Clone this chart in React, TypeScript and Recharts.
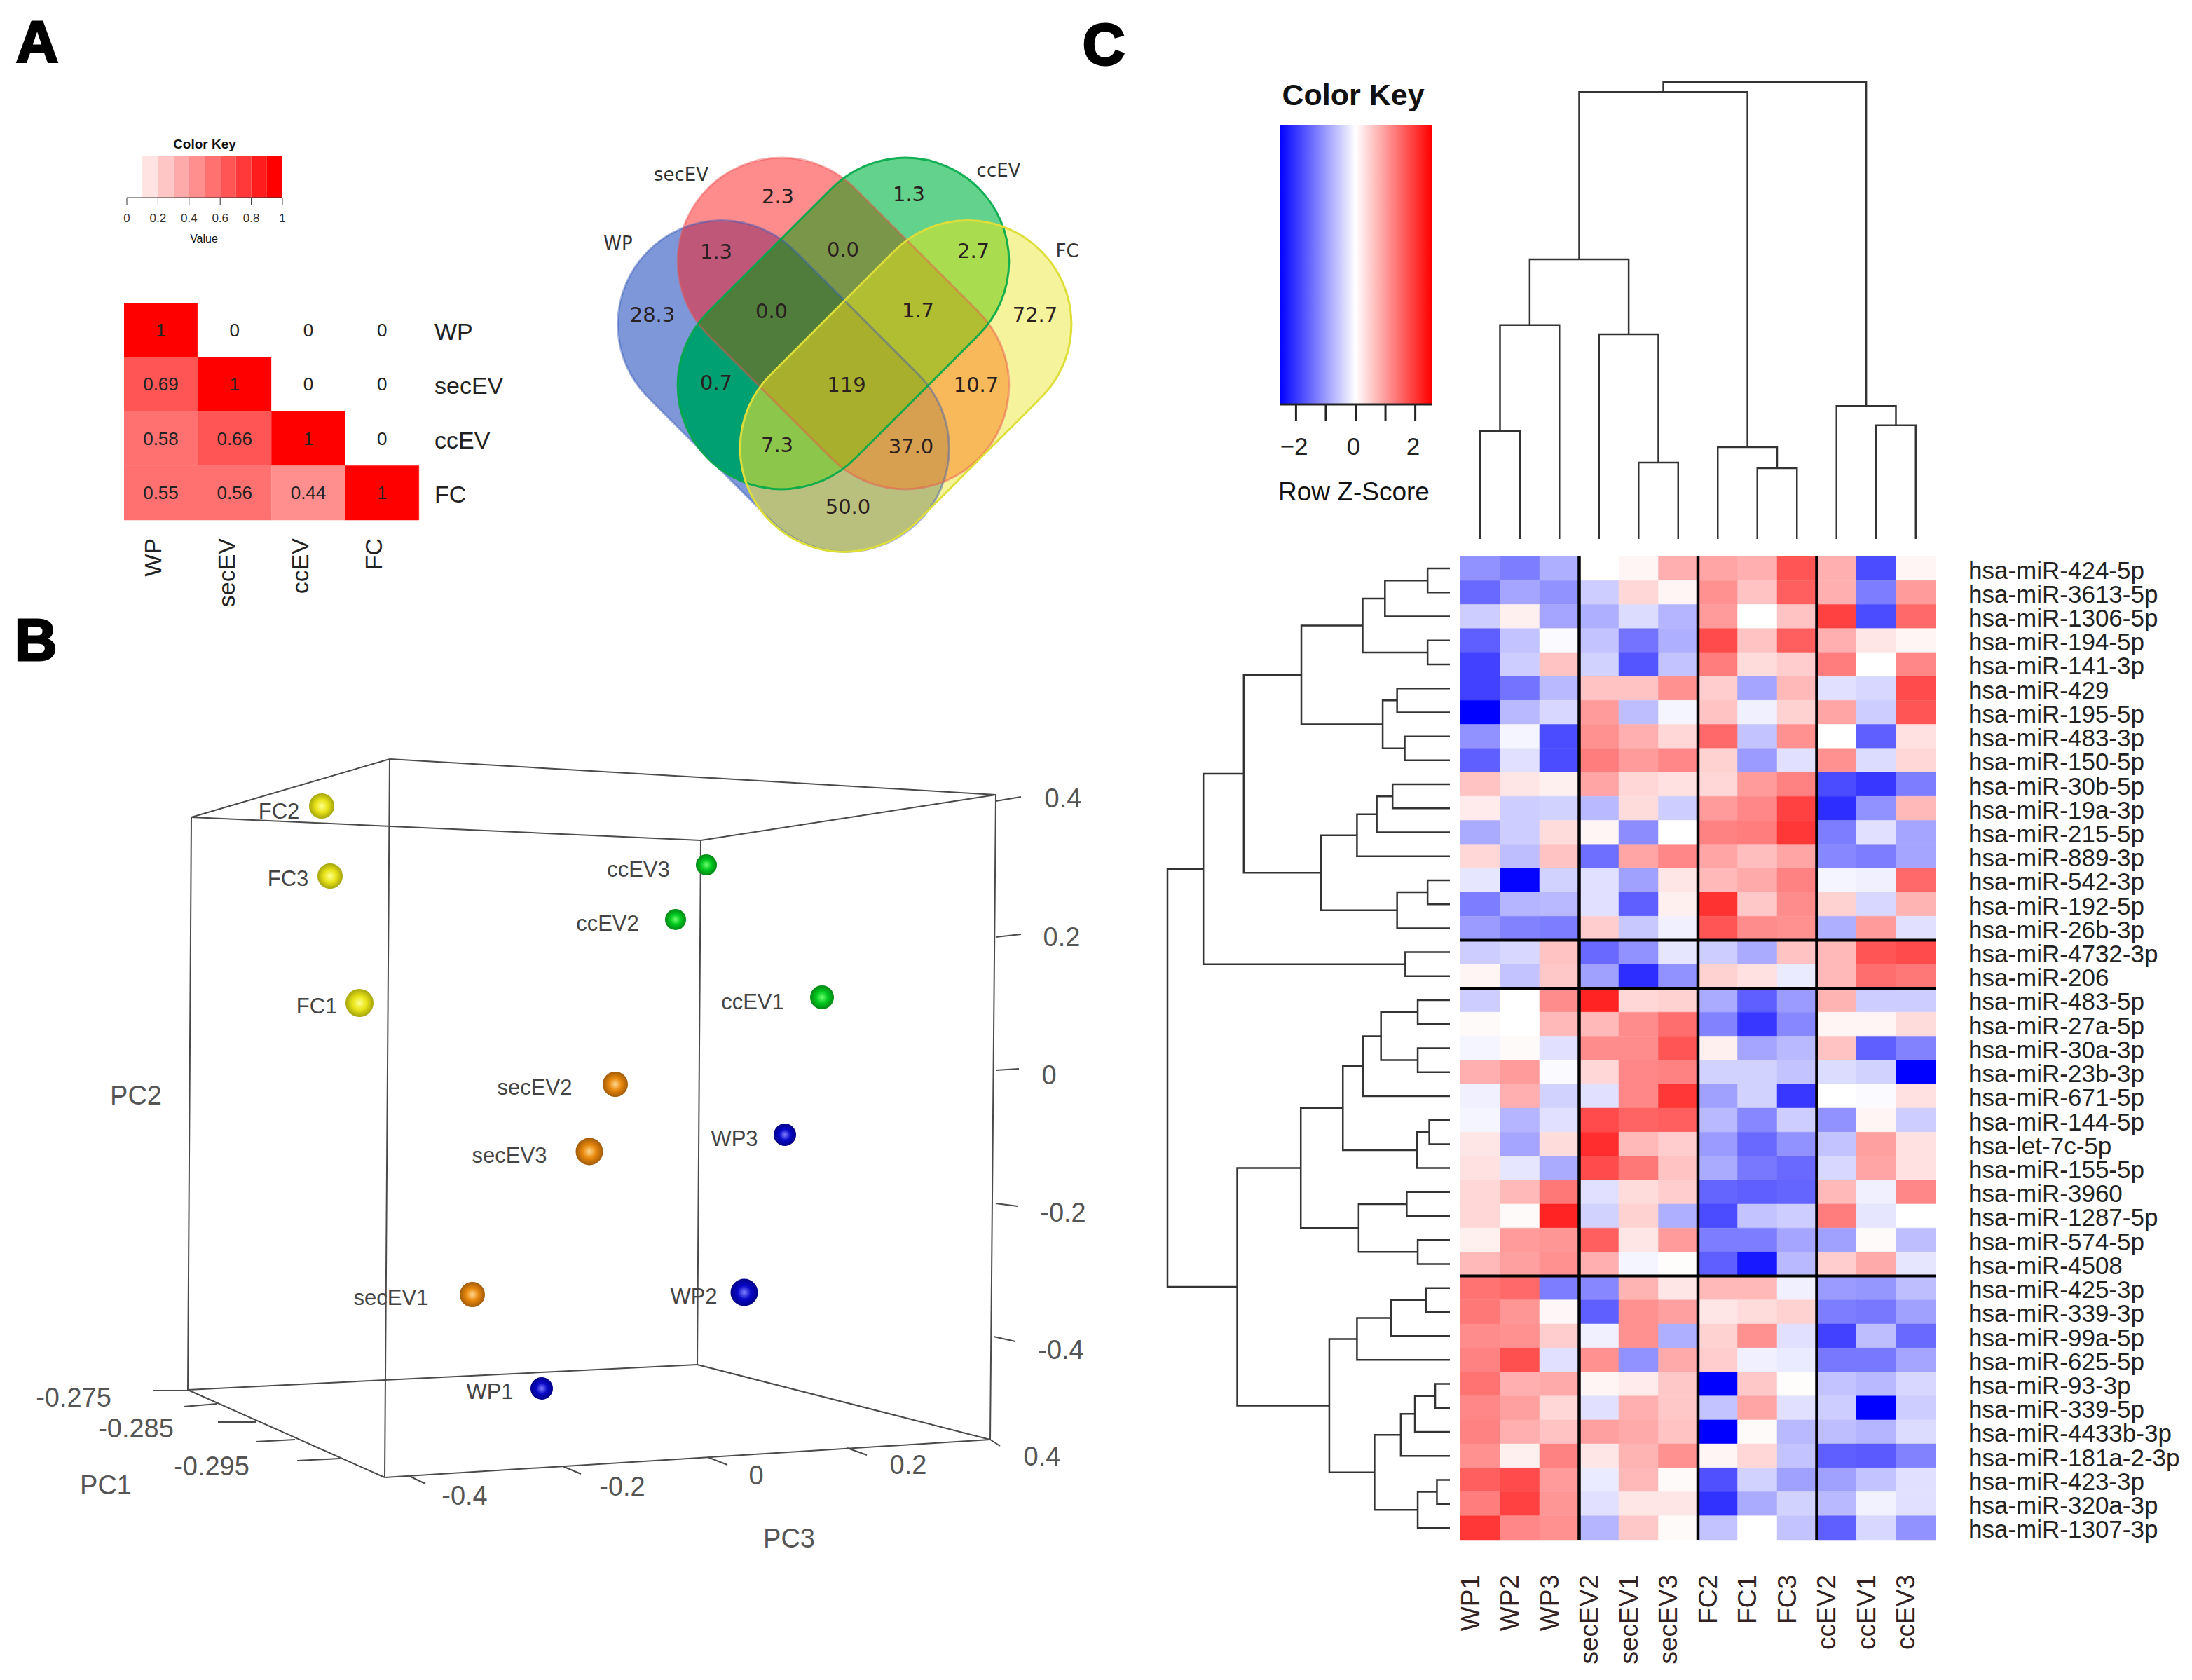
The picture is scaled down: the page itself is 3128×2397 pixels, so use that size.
import React from "react";
import {
  Bar,
  BarChart,
  Cell,
  LabelList,
  ReferenceLine,
  Scatter,
  ScatterChart,
  XAxis,
  YAxis,
  ZAxis,
} from "recharts";

// panel A - correlation matrix
const corrNames = ["WP", "secEV", "ccEV", "FC"];
const corrValues = [
  [1, 0, 0, 0],
  [0.69, 1, 0, 0],
  [0.58, 0.66, 1, 0],
  [0.55, 0.56, 0.44, 1],
];
const corrRows = [0, 1, 2, 3];
const corrKeySteps = [0, 1, 2, 3, 4, 5, 6, 7, 8, 9];
const corrKeyTicks = [0, 0.2, 0.4, 0.6, 0.8, 1];

// panel A - venn
const vennSets = [
  { name: "WP", x: 1118, y: 551, angle: 45 },
  { name: "secEV", x: 1203.5, y: 461.5, angle: 45 },
  { name: "ccEV", x: 1203.5, y: 461.5, angle: -45 },
  { name: "FC", x: 1292.5, y: 551, angle: -45 },
];
const vennCounts = [
  { text: "2.3", x: 1110, y: 280, sets: ["secEV"] },
  { text: "1.3", x: 1297, y: 277, sets: ["ccEV"] },
  { text: "28.3", x: 931, y: 449, sets: ["WP"] },
  { text: "72.7", x: 1477, y: 449, sets: ["FC"] },
  { text: "1.3", x: 1022, y: 359, sets: ["WP", "secEV"] },
  { text: "0.0", x: 1203, y: 356, sets: ["secEV", "ccEV"] },
  { text: "2.7", x: 1389, y: 358, sets: ["ccEV", "FC"] },
  { text: "0.7", x: 1022, y: 546, sets: ["WP", "ccEV"] },
  { text: "10.7", x: 1393, y: 549, sets: ["secEV", "FC"] },
  { text: "50.0", x: 1210, y: 723, sets: ["WP", "FC"] },
  { text: "0.0", x: 1101, y: 444, sets: ["WP", "secEV", "ccEV"] },
  { text: "1.7", x: 1310, y: 443, sets: ["secEV", "ccEV", "FC"] },
  { text: "7.3", x: 1109, y: 635, sets: ["WP", "ccEV", "FC"] },
  { text: "37.0", x: 1300, y: 637, sets: ["WP", "secEV", "FC"] },
  { text: "119", x: 1208, y: 549, sets: ["WP", "secEV", "ccEV", "FC"] },
];
const vennNames = [
  { text: "secEV", x: 972, y: 249 },
  { text: "ccEV", x: 1425, y: 243 },
  { text: "WP", x: 882, y: 347 },
  { text: "FC", x: 1523, y: 358 },
];
const regionFills: Record<string, string> = {
  secEV: "#ff8c8c",
  ccEV: "#63d28c",
  WP: "#7d97d8",
  FC: "#f5f39c",
  "WP+secEV": "#bf5878",
  "secEV+ccEV": "#7a9648",
  "ccEV+FC": "#aadc50",
  "WP+ccEV": "#00a073",
  "secEV+FC": "#f7b95a",
  "WP+FC": "#b9c07d",
  "WP+secEV+ccEV": "#507d3c",
  "secEV+ccEV+FC": "#b2be32",
  "WP+ccEV+FC": "#8cc64b",
  "WP+secEV+FC": "#d7a050",
  "WP+secEV+ccEV+FC": "#a8af2d",
};
const setStrokes: Record<string, { color: string; opacity: number }> = {
  WP: { color: "#3a5ab8", opacity: 0.45 },
  secEV: { color: "#e85050", opacity: 0.45 },
  ccEV: { color: "#00a848", opacity: 0.9 },
  FC: { color: "#dede3a", opacity: 1 },
};

// panel B - PCA, projected on the picture plane
const fcSpheres = [
  { x: 459, y: 1150, depth: 0.6 },
  { x: 471, y: 1250, depth: 0.6 },
  { x: 513, y: 1431, depth: 1 },
];
const ccSpheres = [
  { x: 1008, y: 1234, depth: 0 },
  { x: 964, y: 1312, depth: 0 },
  { x: 1173, y: 1423, depth: 0.4 },
];
const secSpheres = [
  { x: 878, y: 1547, depth: 0.6 },
  { x: 841, y: 1643, depth: 0.9 },
  { x: 674, y: 1847, depth: 0.6 },
];
const wpSpheres = [
  { x: 1120, y: 1619, depth: 0.2 },
  { x: 1062, y: 1844, depth: 0.9 },
  { x: 773, y: 1981, depth: 0.2 },
];
const sphereLabels = [
  { text: "FC2", x: 398, y: 1157 },
  { text: "FC3", x: 411, y: 1253 },
  { text: "FC1", x: 452, y: 1435 },
  { text: "ccEV3", x: 911, y: 1240 },
  { text: "ccEV2", x: 867, y: 1317 },
  { text: "ccEV1", x: 1074, y: 1429 },
  { text: "secEV2", x: 763, y: 1551 },
  { text: "secEV3", x: 727, y: 1648 },
  { text: "secEV1", x: 558, y: 1851 },
  { text: "WP3", x: 1048, y: 1624 },
  { text: "WP2", x: 990, y: 1849 },
  { text: "WP1", x: 699, y: 1985 },
];
const boxEdges = [
  [273, 1166, 556, 1083],
  [556, 1083, 1421, 1134],
  [273, 1166, 1000, 1199],
  [1000, 1199, 1421, 1134],
  [273, 1166, 268, 1983],
  [556, 1083, 549, 2108],
  [1000, 1199, 995, 1947],
  [1421, 1134, 1413, 2054],
  [268, 1983, 995, 1947],
  [995, 1947, 1413, 2054],
  [268, 1983, 549, 2108],
  [549, 2108, 1413, 2054],
];
const boxTicks = [
  [1421, 1143, 1457, 1137],
  [1421, 1337, 1457, 1333],
  [1421, 1527, 1454, 1525],
  [1421, 1717, 1452, 1721],
  [1418, 1907, 1449, 1914],
  [1413, 2054, 1427, 2063],
  [1209, 2066, 1237, 2076],
  [1010, 2079, 1038, 2090],
  [803, 2092, 829, 2103],
  [584, 2106, 607, 2117],
  [268, 1984, 219, 1984],
  [309, 2003, 262, 2007],
  [365, 2029, 311, 2029],
  [421, 2054, 365, 2057],
  [485, 2081, 424, 2084],
];
const boxTexts = [
  { text: "0.4", x: 1517, y: 1139 },
  { text: "0.2", x: 1515, y: 1337 },
  { text: "0", x: 1497, y: 1534 },
  { text: "-0.2", x: 1517, y: 1730 },
  { text: "-0.4", x: 1514, y: 1926 },
  { text: "0.4", x: 1487, y: 2078 },
  { text: "0.2", x: 1296, y: 2090 },
  { text: "0", x: 1079, y: 2105 },
  { text: "-0.2", x: 888, y: 2121 },
  { text: "-0.4", x: 663, y: 2134 },
  { text: "-0.275", x: 105, y: 1994 },
  { text: "-0.285", x: 194, y: 2038 },
  { text: "-0.295", x: 302, y: 2092 },
  { text: "PC1", x: 151, y: 2119 },
  { text: "PC2", x: 194, y: 1563 },
  { text: "PC3", x: 1126, y: 2195 },
];

// panel C - heatmap
const samples = ["WP1", "WP2", "WP3", "secEV2", "secEV1", "secEV3", "FC2", "FC1", "FC3", "ccEV2", "ccEV1", "ccEV3"];
const mirLabels = [
  "hsa-miR-424-5p", "hsa-miR-3613-5p", "hsa-miR-1306-5p", "hsa-miR-194-5p", "hsa-miR-141-3p", "hsa-miR-429",
  "hsa-miR-195-5p", "hsa-miR-483-3p", "hsa-miR-150-5p", "hsa-miR-30b-5p", "hsa-miR-19a-3p", "hsa-miR-215-5p",
  "hsa-miR-889-3p", "hsa-miR-542-3p", "hsa-miR-192-5p", "hsa-miR-26b-3p", "hsa-miR-4732-3p", "hsa-miR-206",
  "hsa-miR-483-5p", "hsa-miR-27a-5p", "hsa-miR-30a-3p", "hsa-miR-23b-3p", "hsa-miR-671-5p", "hsa-miR-144-5p",
  "hsa-let-7c-5p", "hsa-miR-155-5p", "hsa-miR-3960", "hsa-miR-1287-5p", "hsa-miR-574-5p", "hsa-miR-4508",
  "hsa-miR-425-3p", "hsa-miR-339-3p", "hsa-miR-99a-5p", "hsa-miR-625-5p", "hsa-miR-93-3p", "hsa-miR-339-5p",
  "hsa-miR-4433b-3p", "hsa-miR-181a-2-3p", "hsa-miR-423-3p", "hsa-miR-320a-3p", "hsa-miR-1307-3p",
];
const zScores = [
  [-1.1, -1.3, -0.8, 0, 0.1, 0.8, 0.9, 0.8, 1.7, 0.8, -1.8, 0.1],
  [-1.5, -0.9, -1.1, -0.5, 0.4, 0.1, 1.1, 0.6, 1.6, 0.8, -1.3, 1],
  [-0.5, 0.15, -0.9, -0.8, -0.35, -0.75, 1, 0, 0.6, 1.9, -1.8, 1.5],
  [-1.6, -0.6, -0.05, -0.6, -1.4, -0.8, 1.8, 0.6, 1.6, 0.8, 0.25, 0.1],
  [-1.9, -0.5, 0.6, -0.45, -1.7, -0.6, 1.3, 0.35, 0.5, 1.3, 0, 1.2],
  [-1.9, -1.4, -0.7, 0.6, 0.6, 1.1, 0.5, -0.9, 0.7, -0.3, -0.4, 1.8],
  [-2.55, -0.7, -0.4, 1, -0.65, -0.1, 0.6, -0.15, 0.45, 0.9, -0.5, 1.7],
  [-1.1, -0.1, -1.8, 1.1, 0.8, 0.4, 1.5, -0.6, 1.1, 0, -1.6, 0.3],
  [-1.6, -0.3, -1.8, 1.3, 1, 1.2, 0.45, -1, -0.3, 1.1, -0.35, 0.4],
  [0.6, 0.25, 0.15, 0.9, 0.4, 0.3, 0.4, 1, 1.25, -1.8, -2, -1.3],
  [0.2, -0.5, -0.45, -0.7, 0.35, -0.5, 1, 1.2, 1.9, -2.1, -1.1, 0.7],
  [-0.85, -0.5, 0.35, 0.1, -1.15, 0, 1.25, 1.3, 2, -1.3, -0.3, -0.9],
  [0.4, -0.65, 0.6, -1.45, 0.9, 1.2, 0.9, 0.65, 0.9, -1.2, -1.3, -0.9],
  [-0.25, -2.5, -0.45, -0.3, -0.95, 0.25, 0.7, 0.85, 1.25, -0.1, -0.15, 1.5],
  [-1.3, -0.75, -0.7, -0.3, -1.6, 0.15, 2.05, 0.55, 1.15, 0.45, -0.4, 0.75],
  [-1, -1.25, -1.3, 0.5, -0.55, -0.15, 1.7, 1.15, 1.1, -0.8, 1, -0.3],
  [-0.5, -0.4, 0.6, -1.5, -1.1, -0.25, -0.5, -0.85, 0.6, 0.7, 1.7, 1.8],
  [0.1, -0.6, 0.55, -0.95, -2.1, -1.1, 0.45, 0.3, -0.2, 0.7, 1.45, 1.35],
  [-0.5, 0, 1.15, 2.2, 0.4, 0.45, -0.85, -1.6, -1, 0.75, -0.5, -0.5],
  [0.05, 0, 0.7, 0.7, 1.15, 1.45, -1.25, -2, -1.2, 0.1, 0.1, 0.35],
  [-0.1, 0.05, -0.3, 1.15, 1.15, 1.7, 0.15, -0.9, -0.7, 0.6, -1.6, -1.25],
  [0.8, 1, -0.05, 0.4, 1.2, 1.25, -0.45, -0.45, -0.6, -0.35, -0.45, -2.55],
  [-0.15, 0.8, -0.45, -0.3, 1.2, 2, -0.95, -0.45, -2, 0, -0.05, 0.3],
  [-0.1, -0.75, -0.3, 1.8, 1.55, 1.6, -0.7, -1.2, -0.5, -1.1, 0.1, -0.5],
  [0.25, -0.9, 0.35, 2.1, 0.7, 0.5, -1, -1.5, -1.1, -0.6, 0.95, 0.3],
  [0.3, -0.25, -0.85, 1.8, 1.35, 0.6, -0.85, -1.35, -1.5, -0.4, 0.9, 0.3],
  [0.4, 0.7, 1.35, -0.3, 0.35, 0.5, -1.55, -1.6, -1.55, 0.7, -0.15, 1.2],
  [0.4, 0.05, 2.2, -0.45, 0.45, -0.8, -1.8, -0.6, -0.5, 1.3, -0.25, 0],
  [0.15, 1, 1.05, 1.6, 0.25, 1, -1.3, -1.3, -0.9, -0.95, 0.05, -0.65],
  [0.7, 0.95, 1.1, 0.8, -0.1, 0.03, -1.6, -2.3, -0.7, 0.5, 0.85, -0.25],
  [1.4, 1.5, -1.3, -1.2, 0.75, 0.25, 0.7, 0.7, -0.15, -1, -1.05, -0.65],
  [1.35, 1.05, 0.08, -1.6, 1.1, 0.95, 0.25, 0.35, 0.45, -1.3, -1.35, -0.95],
  [1.15, 1.1, 0.5, -0.15, 1.1, -0.8, 0.45, 1.1, -0.3, -1.9, -0.65, -1.5],
  [1.25, 1.75, -0.3, 1.1, -1.1, 0.85, 0.5, -0.15, -0.2, -1.35, -1.35, -0.9],
  [1.4, 0.8, 0.85, 0.1, 0.2, 0.55, -2.55, 0.55, 0.03, -0.6, -0.7, -0.4],
  [1.2, 0.95, 0.4, -0.3, 0.8, 0.55, -0.6, 0.9, -0.3, -0.5, -2.55, -0.5],
  [1.25, 0.8, 0.6, 0.95, 0.85, 0.6, -2.55, 0.05, -0.7, -0.65, -0.75, -0.35],
  [1.1, 0.15, 1.25, 0.25, 0.75, 1.1, 0.1, 0.4, -0.6, -1.6, -1.65, -1.25],
  [1.6, 1.8, 1, -0.2, 0.7, 0.05, -1.75, -0.45, -0.95, -0.95, -0.6, -0.3],
  [1.3, 1.9, 1.05, -0.3, 0.25, 0.25, -2.05, -0.85, -0.45, -0.7, -0.13, -0.3],
  [2, 1.2, 1.1, -0.75, 0.55, 0.05, -0.6, 0, -0.6, -1.6, -0.4, -1.1],
];
const columnBreaks = ["secEV2", "FC2", "ccEV2"];
const rowBreaks = [16, 18, 30];
const zRange = 2.55;
const zKeyTicks = [-2, -1, 0, 1, 2];

// dendrograms as hclust merge tables: negative = leaf, positive = earlier merge
const columnMerges = [
  [-1, -2, 2.36], [1, -3, 4.68], [-5, -6, 1.67], [-4, 3, 4.48], [2, 4, 6.12], [-8, -9, 1.55],
  [-7, 6, 2.01], [5, 7, 9.78], [-11, -12, 2.49], [-10, 9, 2.91], [8, 10, 10],
];
const rowMerges = [
  [-1, -2, 0.79], [1, -3, 2.3], [-4, -5, 0.79], [2, 3, 3.09], [-6, -7, 1.87], [-8, -9, 1.6], [5, 6, 2.38],
  [4, 7, 5.26], [-10, -11, 2.03], [9, -12, 2.59], [10, -13, 3.29], [-14, -15, 0.79], [12, -16, 1.87],
  [11, 13, 4.56], [8, 14, 7.3], [-17, -18, 1.58], [15, 16, 8.73], [-19, -20, 1.14], [-21, -22, 1.14],
  [18, 19, 2.44], [20, -23, 3.07], [-24, -25, 0.73], [22, -26, 1.16], [21, 23, 3.79], [-27, -28, 1.53],
  [-29, -30, 1.14], [25, 26, 3.23], [24, 27, 5.28], [-31, -32, 0.85], [29, -33, 2.08], [30, -34, 3.29],
  [-35, -36, 0.52], [32, -37, 1.24], [33, -38, 1.74], [-39, -40, 0.46], [35, -41, 1.14], [34, 36, 2.67],
  [31, 37, 4.27], [28, 38, 7.53], [17, 39, 10],
];

const corrColor = (step: number) => {
  const g = Math.round(255 * (1 - step / 9));
  return `rgb(255,${g},${g})`;
};
const corrFill = (v: number) => corrColor(Math.min(9, Math.floor(v * 10)));
const zFill = (z: number) => {
  const rest = Math.round(255 * (1 - Math.min(1, Math.abs(z) / zRange)));
  return z >= 0 ? `rgb(255,${rest},${rest})` : `rgb(${rest},${rest},255)`;
};

function mergeLinks(merges: number[][]) {
  const nodes: { pos: number; height: number }[] = [];
  const node = (id: number) => (id < 0 ? { pos: -id - 0.5, height: 0 } : nodes[id - 1]);
  return merges.map(([a, b, height]) => {
    const left = node(a);
    const right = node(b);
    nodes.push({ pos: (left.pos + right.pos) / 2, height });
    return [left, { pos: left.pos, height }, { pos: right.pos, height }, right];
  });
}

const Caption = ({ x, y, size, bold, children }: any) => (
  <div
    style={{
      position: "absolute",
      left: x,
      top: y,
      transform: "translate(-50%,-50%)",
      fontSize: size,
      fontWeight: bold ? 700 : 400,
      lineHeight: 1,
      whiteSpace: "nowrap",
      color: "#111",
    }}
  >
    {children}
  </div>
);

const PanelLetter = ({ x, y, children }: any) => (
  <div
    style={{
      position: "absolute",
      left: x,
      top: y,
      transform: "translate(-50%,-50%)",
      fontSize: 84,
      fontWeight: 700,
      lineHeight: 1,
      color: "#000",
      WebkitTextStroke: "3px #000",
    }}
  >
    {children}
  </div>
);

const Placed = ({ x, y, children }: any) => (
  <div style={{ position: "absolute", left: x, top: y }}>{children}</div>
);

const RotatedTick = ({ x, y, payload, shift, drop, size, fill }: any) => (
  <text
    transform={`translate(${x + shift},${y + drop}) rotate(-90)`}
    textAnchor="end"
    dominantBaseline="central"
    fontSize={size}
    fill={fill}
  >
    {payload.value}
  </text>
);

const PlotText = ({ cx, cy, payload, size, fill, font }: any) => (
  <text x={cx} y={cy} textAnchor="middle" dominantBaseline="central" fontSize={size} fill={fill} fontFamily={font}>
    {payload.text}
  </text>
);

const capsuleProps = (cx: number, cy: number, angle: number) => ({
  x: cx - 273,
  y: cy - 148,
  width: 546,
  height: 296,
  rx: 148,
  ry: 148,
  transform: `rotate(${angle} ${cx} ${cy})`,
});

const CapsuleClip = ({ cx, cy, payload }: any) => (
  <clipPath id={`set-${payload.name}`}>
    <rect {...capsuleProps(cx, cy, payload.angle)} />
  </clipPath>
);

const CapsuleOutline = ({ cx, cy, payload }: any) => (
  <rect
    {...capsuleProps(cx, cy, payload.angle)}
    fill="none"
    stroke={setStrokes[payload.name].color}
    strokeOpacity={setStrokes[payload.name].opacity}
    strokeWidth={3}
  />
);

// paint the region of one set combination; bigger combinations go on top of smaller ones
const VennRegion = ({ cx, cy, payload }: any) =>
  payload.sets.reduceRight(
    (inner: any, name: string) => <g clipPath={`url(#set-${name})`}>{inner}</g>,
    <rect x={cx - 800} y={cy - 800} width={1600} height={1600} fill={regionFills[payload.sets.join("+")]} />
  );

const Sphere = ({ cx, cy, size, gradient }: any) => <circle cx={cx} cy={cy} r={size} fill={`url(#${gradient})`} />;

const NoDot = () => null;

function CorrelationKey() {
  const row = [Object.fromEntries(corrKeySteps.map((s) => [`s${s}`, 0.1]))];
  return (
    <BarChart width={250} height={100} data={row} layout="vertical" margin={{ top: 0, right: 18, bottom: 0, left: 10 }} barCategoryGap={0}>
      <XAxis
        type="number"
        domain={[0, 1]}
        ticks={corrKeyTicks}
        interval={0}
        height={41}
        tickSize={11}
        tickMargin={12}
        tick={{ fontSize: 17, fill: "#333" }}
        stroke="#333"
      />
      <YAxis type="category" hide />
      {corrKeySteps.map((s) => (
        <Bar key={s} dataKey={`s${s}`} stackId="key" fill={corrColor(s)} isAnimationActive={false} />
      ))}
    </BarChart>
  );
}

function CorrelationMatrix() {
  const table = corrNames.map((name) => ({ name, ...Object.fromEntries(corrNames.map((n) => [`to${n}`, 1])) }));
  return (
    <BarChart width={541} height={460} data={table} margin={{ top: 0, right: 0, bottom: 0, left: 0 }} barCategoryGap={0}>
      <XAxis
        dataKey="name"
        interval={0}
        height={150}
        tickLine={false}
        axisLine={false}
        tickSize={0}
        tick={<RotatedTick shift={-12} drop={24} size={34} fill="#222" />}
      />
      <YAxis
        type="number"
        domain={[0, 4]}
        reversed
        orientation="right"
        width={120}
        ticks={[0.5, 1.5, 2.5, 3.5]}
        interval={0}
        tickLine={false}
        axisLine={false}
        tickSize={0}
        tickMargin={22}
        tick={{ fontSize: 34, fill: "#222", dy: 2 }}
        tickFormatter={(v: number) => corrNames[Math.floor(v)]}
      />
      {corrRows.map((r) => (
        <Bar key={r} dataKey={`to${corrNames[r]}`} stackId="corr" isAnimationActive={false}>
          {corrNames.map((n, c) => (
            <Cell key={n} fill={corrFill(corrValues[r][c])} stroke={corrFill(corrValues[r][c])} strokeWidth={0.5} />
          ))}
          <LabelList
            content={({ x, y, width, height, index }: any) => (
              <text
                x={x + width / 2}
                y={y + height / 2}
                textAnchor="middle"
                dominantBaseline="central"
                fontSize={26}
                fill="#222"
              >
                {String(corrValues[r][index])}
              </text>
            )}
          />
        </Bar>
      ))}
    </BarChart>
  );
}

function Venn() {
  return (
    <ScatterChart width={800} height={640} margin={{ top: 0, right: 0, bottom: 0, left: 0 }}>
      <XAxis type="number" dataKey="x" domain={[800, 1600]} hide />
      <YAxis type="number" dataKey="y" domain={[180, 820]} reversed hide />
      <Scatter data={vennSets} shape={<CapsuleClip />} isAnimationActive={false} />
      <Scatter data={vennCounts} shape={<VennRegion />} isAnimationActive={false} />
      <Scatter data={vennSets} shape={<CapsuleOutline />} isAnimationActive={false} />
      <Scatter
        data={vennCounts}
        shape={<PlotText size={29} fill="#2a2020" font="'DejaVu Sans'" />}
        isAnimationActive={false}
      />
      <Scatter
        data={vennNames}
        shape={<PlotText size={26} fill="#333" font="'DejaVu Sans'" />}
        isAnimationActive={false}
      />
    </ScatterChart>
  );
}

const sphereGroups = [
  { id: "fcBall", data: fcSpheres, light: "#ffff90", mid: "#e8e418", dark: "#98980a" },
  { id: "ccBall", data: ccSpheres, light: "#70ff70", mid: "#00c81e", dark: "#007a14" },
  { id: "secBall", data: secSpheres, light: "#ffd890", mid: "#e8880c", dark: "#945208" },
  { id: "wpBall", data: wpSpheres, light: "#8080ff", mid: "#0808c8", dark: "#00007a" },
];

function PcaBox() {
  return (
    <ScatterChart width={1600} height={1400} margin={{ top: 0, right: 0, bottom: 0, left: 0 }}>
      <defs>
        {sphereGroups.map((g) => (
          <radialGradient key={g.id} id={g.id} cx="50%" cy="50%" r="55%">
            <stop offset="0%" stopColor={g.light} />
            <stop offset="45%" stopColor={g.mid} />
            <stop offset="100%" stopColor={g.dark} />
          </radialGradient>
        ))}
      </defs>
      <XAxis type="number" dataKey="x" domain={[0, 1600]} hide />
      <YAxis type="number" dataKey="y" domain={[880, 2280]} reversed hide />
      <ZAxis type="number" dataKey="depth" domain={[0, 1]} range={[15, 20]} />
      {[...boxEdges, ...boxTicks].map(([x1, y1, x2, y2], i) => (
        <ReferenceLine key={i} segment={[{ x: x1, y: y1 }, { x: x2, y: y2 }]} stroke="#4a4a4a" strokeWidth={2} />
      ))}
      {sphereGroups.map((g) => (
        <Scatter key={g.id} data={g.data} shape={<Sphere gradient={g.id} />} isAnimationActive={false} />
      ))}
      <Scatter data={sphereLabels} shape={<PlotText size={31} fill="#444" />} isAnimationActive={false} />
      <Scatter data={boxTexts} shape={<PlotText size={38} fill="#555" />} isAnimationActive={false} />
    </ScatterChart>
  );
}

function ZKey() {
  return (
    <BarChart
      width={217}
      height={498}
      data={[{ name: "z", range: [-zRange, zRange] }]}
      layout="vertical"
      margin={{ top: 0, right: 0, bottom: 0, left: 0 }}
      barCategoryGap={0}
    >
      <defs>
        <linearGradient id="zRamp" x1="0" y1="0" x2="1" y2="0">
          <stop offset="0%" stopColor="#0000ff" />
          <stop offset="50%" stopColor="#ffffff" />
          <stop offset="100%" stopColor="#ff0000" />
        </linearGradient>
      </defs>
      <XAxis
        type="number"
        domain={[-zRange, zRange]}
        ticks={zKeyTicks}
        interval={0}
        height={100}
        tickSize={23}
        tickMargin={24}
        stroke="#222"
        strokeWidth={3}
        tick={{ fontSize: 35, fill: "#222", strokeWidth: 0, dx: -3 }}
        tickFormatter={(v: number) => (v % 2 !== 0 ? "" : v < 0 ? `\u2212${-v}` : `${v}`)}
      />
      <XAxis
        xAxisId="top"
        orientation="top"
        type="number"
        domain={[-zRange, zRange]}
        height={0}
        tick={false}
        tickLine={false}
        stroke="#222"
        strokeWidth={3}
      />
      <YAxis type="category" dataKey="name" hide />
      <Bar dataKey="range" fill="url(#zRamp)" isAnimationActive={false} />
    </BarChart>
  );
}

function ColumnTree() {
  return (
    <ScatterChart width={678} height={660} margin={{ top: 4, right: 0, bottom: 4, left: 0 }}>
      <XAxis type="number" dataKey="pos" domain={[0, 12]} hide />
      <YAxis type="number" dataKey="height" domain={[0, 10]} hide />
      {mergeLinks(columnMerges).map((link, i) => (
        <Scatter
          key={i}
          data={link}
          line={{ stroke: "#333", strokeWidth: 2.5 }}
          shape={<NoDot />}
          isAnimationActive={false}
        />
      ))}
    </ScatterChart>
  );
}

function RowTree() {
  return (
    <ScatterChart width={411} height={1403} margin={{ top: 0, right: 0, bottom: 0, left: 8 }}>
      <XAxis type="number" dataKey="height" domain={[0, 10]} reversed hide />
      <YAxis type="number" dataKey="pos" domain={[0, 41]} reversed hide />
      {mergeLinks(rowMerges).map((link, i) => (
        <Scatter
          key={i}
          data={link}
          line={{ stroke: "#333", strokeWidth: 2.5 }}
          shape={<NoDot />}
          isAnimationActive={false}
        />
      ))}
    </ScatterChart>
  );
}

function Heatmap() {
  const table = samples.map((sample) => ({ sample, ...Object.fromEntries(mirLabels.map((m) => [m, 1])) }));
  return (
    <BarChart width={1044} height={1603} data={table} margin={{ top: 0, right: 0, bottom: 0, left: 0 }} barCategoryGap={0}>
      <XAxis
        dataKey="sample"
        interval={0}
        height={200}
        tickLine={false}
        axisLine={false}
        tickSize={0}
        tick={<RotatedTick shift={-14} drop={48} size={37} fill="#322" />}
      />
      <YAxis
        type="number"
        domain={[0, 41]}
        reversed
        orientation="right"
        width={366}
        ticks={mirLabels.map((_, i) => i + 0.5)}
        interval={0}
        tickLine={false}
        axisLine={false}
        tickSize={0}
        tickMargin={47}
        tick={{ fontSize: 35, fill: "#222", dy: 2 }}
        tickFormatter={(v: number) => mirLabels[Math.floor(v)]}
      />
      {mirLabels.map((m, r) => (
        <Bar key={m} dataKey={m} stackId="heat" isAnimationActive={false}>
          {samples.map((s, c) => (
            <Cell key={s} fill={zFill(zScores[r][c])} stroke={zFill(zScores[r][c])} strokeWidth={0.5} />
          ))}
        </Bar>
      ))}
      {columnBreaks.map((s) => (
        <ReferenceLine key={s} x={s} position="start" stroke="#000" strokeWidth={4.5} />
      ))}
      {rowBreaks.map((r) => (
        <ReferenceLine key={r} y={r} stroke="#000" strokeWidth={4} />
      ))}
    </BarChart>
  );
}

export default function App() {
  return (
    <div
      style={{
        position: "absolute",
        left: 0,
        top: 0,
        width: 3128,
        height: 2397,
        overflow: "hidden",
        background: "#fff",
        fontFamily: "'Liberation Sans', Arial, sans-serif",
      }}
    >
      <PanelLetter x={53} y={60}>A</PanelLetter>
      <PanelLetter x={51} y={913}>B</PanelLetter>
      <PanelLetter x={1575} y={63}>C</PanelLetter>

      <Caption x={292} y={205} size={19} bold>Color Key</Caption>
      <Placed x={171} y={223}>
        <CorrelationKey />
      </Placed>
      <Caption x={291} y={341} size={16}>Value</Caption>
      <Placed x={177} y={432}>
        <CorrelationMatrix />
      </Placed>

      <Placed x={800} y={180}>
        <Venn />
      </Placed>

      <Placed x={0} y={880}>
        <PcaBox />
      </Placed>

      <Caption x={1931} y={135} size={43} bold>Color Key</Caption>
      <Placed x={1826} y={179}>
        <ZKey />
      </Placed>
      <Caption x={1932} y={701} size={37}>Row Z-Score</Caption>
      <Placed x={2084} y={113}>
        <ColumnTree />
      </Placed>
      <Placed x={1658} y={794}>
        <RowTree />
      </Placed>
      <Placed x={2084} y={794}>
        <Heatmap />
      </Placed>
    </div>
  );
}
